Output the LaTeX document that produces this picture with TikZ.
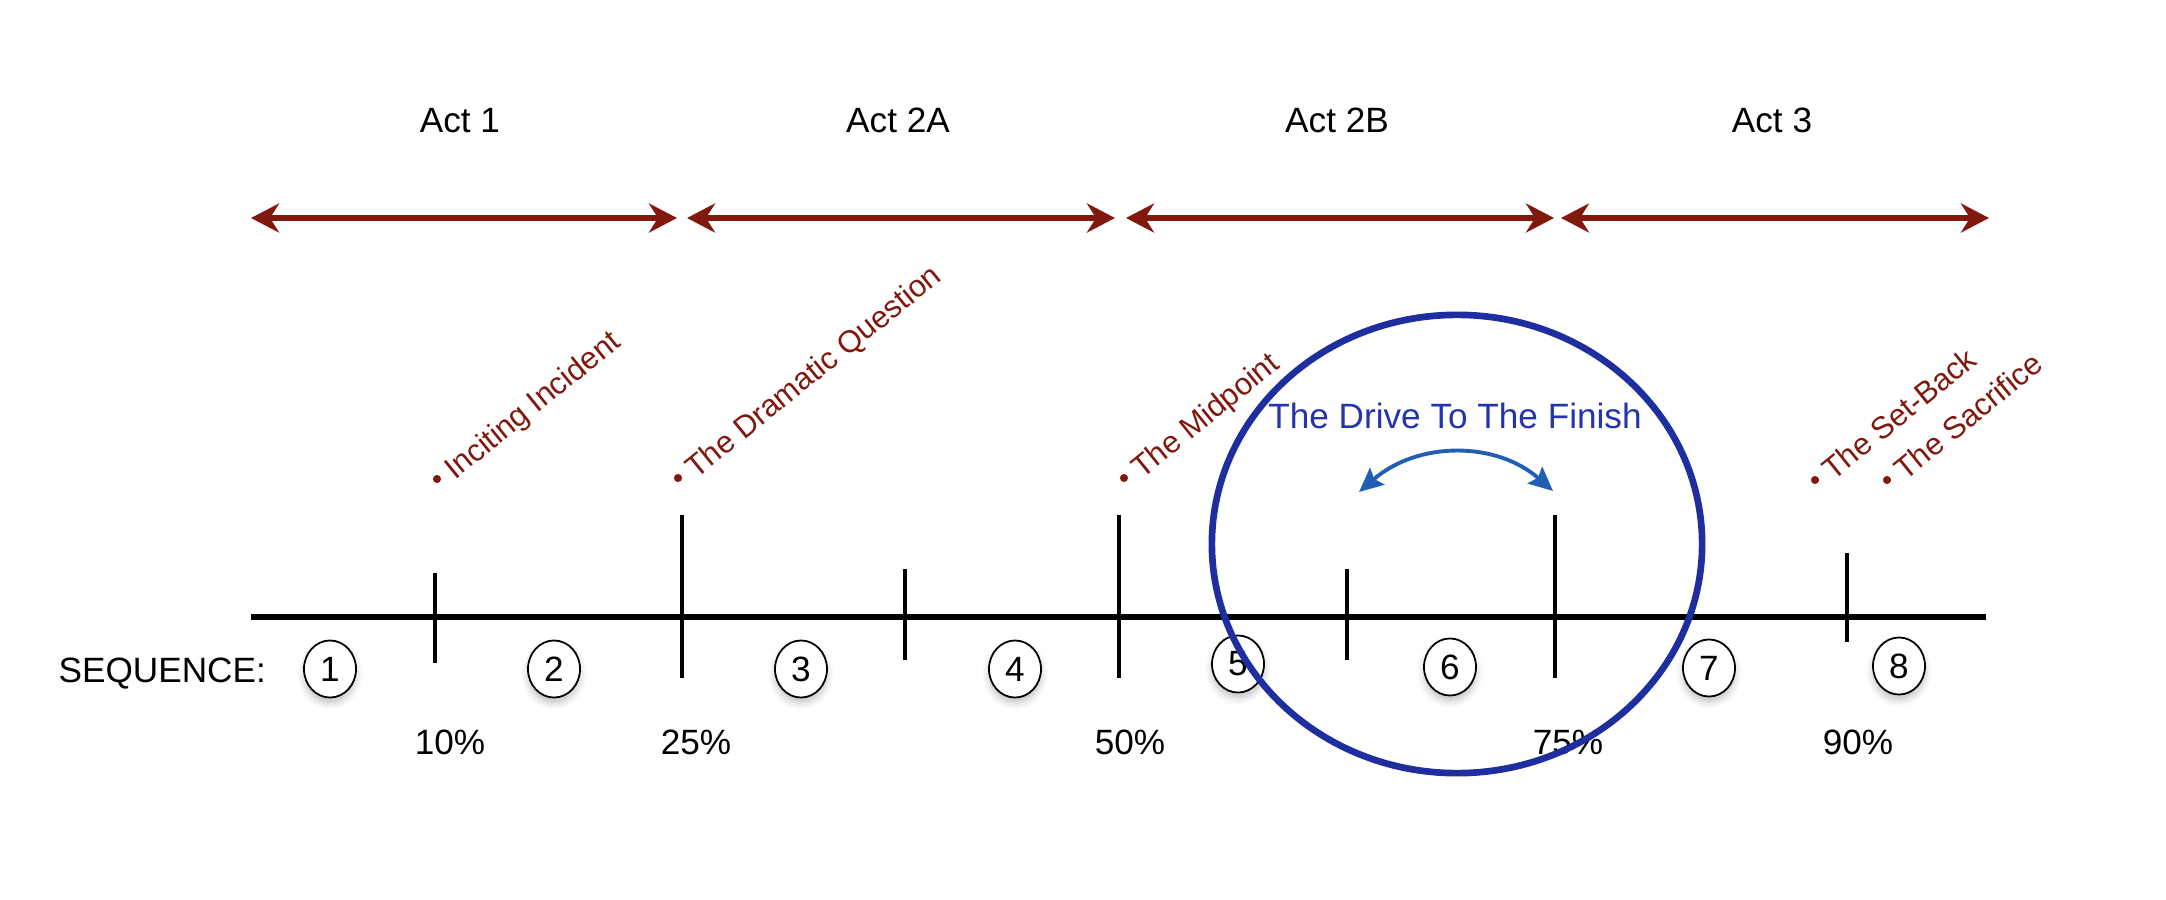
\documentclass[tikz,border=0pt]{standalone}
\usepackage{fontspec}
\setmainfont{Liberation Sans}
\usetikzlibrary{arrows.meta,calc,shapes.geometric,shadows.blur}
\definecolor{actred}{RGB}{128,24,14}
\definecolor{ringblue}{RGB}{30,46,158}
\definecolor{driveblue}{RGB}{36,52,172}
\definecolor{swingblue}{RGB}{32,96,180}
\tikzset{
  font=\fontsize{10}{12}\selectfont,
  redtip/.tip={Stealth[length=2.8mm,width=2.9mm,inset=0.9mm]},
  bluetip/.tip={Stealth[length=2.4mm,width=2.2mm,inset=0.4mm]},
  actspan/.style={redtip-redtip,draw=actred,line width=1.7pt},
  actname/.style={anchor=base,inner sep=0pt},
  timeline/.style={line width=1.6pt},
  seqtick/.style={line width=1.15pt},
  seqnum/.style={
    ellipse,
    draw=black,
    line width=0.5pt,
    fill=white,
    minimum width=5.2mm,
    minimum height=5.7mm,
    inner sep=0pt,
    blur shadow={shadow xshift=0pt,shadow yshift=-1.5pt,shadow blur radius=2pt,shadow opacity=25}
  },
  pct/.style={anchor=base,inner sep=0pt},
  beatdot/.style={circle,fill=actred,inner sep=0pt,minimum size=2.3pt},
  beat/.style={
    text=actred,
    font=\fontsize{8.8}{10}\selectfont,
    rotate=39,
    anchor=base west,
    inner sep=0pt
  },
  ring/.style={ellipse,draw=ringblue,line width=1.9pt,inner sep=0pt},
  swing/.style={bluetip-bluetip,draw=swingblue,line width=1.1pt}
}

\begin{document}
\begin{tikzpicture}[x=0.01cm,y=-0.01cm]
  \useasboundingbox (0,0) rectangle (2166,900);

  \node[actname] at (460,133) (act1) {Act 1};
  \node[actname] at (898,133) (act2a) {Act 2A};
  \node[actname] at (1337,133) (act2b) {Act 2B};
  \node[actname] at (1772,133) (act3) {Act 3};

  \coordinate (span1a) at (251,218);
  \coordinate (span1b) at (677,218);
  \coordinate (span2a) at (687,218);
  \coordinate (span2b) at (1115,218);
  \coordinate (span3a) at (1126,218);
  \coordinate (span3b) at (1554,218);
  \coordinate (span4a) at (1561,218);
  \coordinate (span4b) at (1989,218);
  \draw[actspan] (span1a) -- (span1b);
  \draw[actspan] (span2a) -- (span2b);
  \draw[actspan] (span3a) -- (span3b);
  \draw[actspan] (span4a) -- (span4b);

  \node[beatdot] at (437,479) (dot1) {};
  \node[beat] at ($(dot1)+(-6:5pt)$) (beat1) {Inciting Incident};
  \node[beatdot] at (678,478) (dot2) {};
  \node[beat] at ($(dot2)+(-6:5pt)$) (beat2) {The Dramatic Question};
  \node[beatdot] at (1124,478) (dot3) {};
  \node[beat] at ($(dot3)+(-6:5pt)$) (beat3) {The Midpoint};
  \node[beatdot] at (1815,480) (dot4) {};
  \node[beat] at ($(dot4)+(-6:5pt)$) (beat4) {The Set-Back};
  \node[beatdot] at (1887,480) (dot5) {};
  \node[beat] at ($(dot5)+(-6:5pt)$) (beat5) {The Sacrifice};

  \coordinate (lineL) at (251,617);
  \coordinate (lineR) at (1986,617);
  \draw[timeline] (lineL) -- (lineR);
  \foreach \n/\x/\top/\bot in {1/435/573/663,2/682/515/678,3/905/569/660,4/1119/515/678,
                               5/1347/569/660,6/1555/515/678,7/1847/553/642}
    \draw[seqtick] (\x,\top) coordinate (tick\n top) -- (\x,\bot) coordinate (tick\n bot);

  \node[anchor=base west,inner sep=0pt] at (58,682) (seqlabel) {SEQUENCE:};
  \node[seqnum] at (330,669) (seq1) {1};
  \node[seqnum] at (554,669) (seq2) {2};
  \node[seqnum] at (801,669) (seq3) {3};
  \node[seqnum] at (1015,669) (seq4) {4};
  \node[seqnum] at (1238,664) (seq5) {5};
  \node[seqnum] at (1450,667) (seq6) {6};
  \node[seqnum] at (1709,668) (seq7) {7};
  \node[seqnum] at (1899,666) (seq8) {8};

  \node[pct] at (450,754) (pct10) {10\%};
  \node[pct] at (696,754) (pct25) {25\%};
  \node[pct] at (1130,754) (pct50) {50\%};
  \node[pct] at (1568,754) (pct75) {75\%};
  \node[pct] at (1858,754) (pct90) {90\%};

  \node[ring,minimum width=4.9cm,minimum height=4.58cm] at (1457,544) (drive) {};
  \node[anchor=base,inner sep=0pt,text=driveblue] at (1455,428) (drivename) {The Drive To The Finish};
  \coordinate (swingL) at (1359,492);
  \coordinate (swingR) at (1553,491);
  \draw[swing] (swingL) .. controls (1418,441) and (1496,441) .. (swingR);

\end{tikzpicture}
\end{document}
